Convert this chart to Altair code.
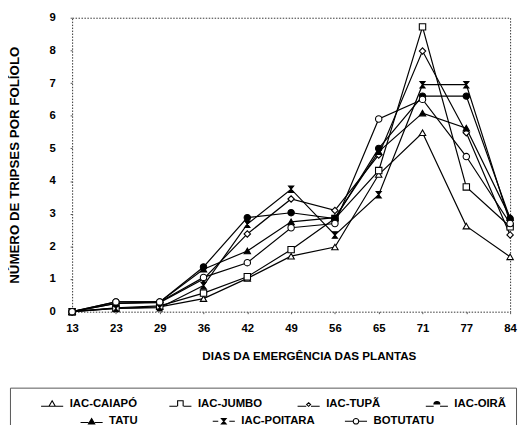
import altair as alt
import pandas as pd

days = ["13", "23", "29", "36", "42", "49", "56", "65", "71", "77", "84"]
series_names = ["IAC-CAIAPÓ", "IAC-JUMBO", "IAC-TUPÃ", "IAC-OIRÃ", "TATU", "IAC-POITARA", "BOTUTATU"]

caiapo   = [0, 0.10, 0.15, 0.40, 1.02, 1.70, 1.98, 4.20, 5.48, 2.62, 1.68]
jumbo    = [0, 0.12, 0.18, 0.57, 1.07, 1.90, 2.85, 4.32, 8.72, 3.82, 2.60]
tupa     = [0, 0.25, 0.28, 1.00, 2.38, 3.45, 3.10, 4.80, 7.98, 5.48, 2.35]
oira     = [0, 0.30, 0.30, 1.37, 2.88, 3.03, 2.85, 5.00, 6.60, 6.60, 2.85]
tatu     = [0, 0.25, 0.30, 1.30, 1.86, 2.75, 2.88, 4.90, 6.08, 5.62, 2.88]
poitara  = [0, 0.10, 0.12, 0.80, 2.68, 3.75, 2.35, 3.58, 6.95, 6.95, 2.72]
botutatu = [0, 0.30, 0.30, 1.05, 1.50, 2.57, 2.70, 5.90, 6.50, 4.75, 2.70]

values = [caiapo, jumbo, tupa, oira, tatu, poitara, botutatu]

rows = []
for name, vals in zip(series_names, values):
    for d, v in zip(days, vals):
        rows.append({"dia": d, "valor": v, "serie": name})
df = pd.DataFrame(rows)

hourglass = "M-0.8,-1L0.8,-1L-0.8,1L0.8,1Z"
marker_shapes = ["triangle-up", "square", "diamond", "circle", "triangle-up", hourglass, "circle"]
marker_fills = ["white", "white", "white", "black", "black", "black", "white"]

# legend symbols: short line with the marker in the middle
leg_shapes = [
    "M-2.8,0.7H-0.8M0.8,0.7H2.8M0,-0.7L0.8,0.7L-0.8,0.7Z",
    "M-2.8,0.7H-0.8M0.8,0.7H2.8M-0.7,0.7V-0.7H0.7V0.7",
    "M-2.8,0.7H-0.6M0.6,0.7H2.8M0,-0.2L0.5,0.25L0,0.7L-0.5,0.25Z",
    "M-2.8,0.7H-0.8M0.8,0.7H2.8M-0.75,0.1A0.75,0.6 0 1,1 0.75,0.1Z",
    "M-2.8,0.3H-0.8M0.8,0.3H2.8M0,-0.7L0.8,0.7L-0.8,0.7Z",
    "M-2.8,0H-1.4M1.4,0H2.8M-0.6,-0.7L0.6,-0.7L-0.6,0.7L0.6,0.7Z",
    "M-2.8,0H-0.7M0.7,0H2.8M-0.7,0A0.7,0.7 0 1,1 0.7,0A0.7,0.7 0 1,1 -0.7,0Z",
]

font = "Liberation Sans"

x_enc = alt.X("dia:O", sort=days, scale=alt.Scale(type="point", padding=0),
              axis=alt.Axis(title="DIAS DA EMERGÊNCIA DAS PLANTAS", labelAngle=0,
                            labelPadding=9, titlePadding=17, tickSize=2, domain=False,
                            titleX=240, titleFontSize=11.8))
y_enc = alt.Y("valor:Q", scale=alt.Scale(domain=[0, 9], nice=False),
              axis=alt.Axis(title="NÚMERO DE TRIPSES POR FOLÍOLO", values=list(range(10)),
                            grid=False, labelPadding=15, titlePadding=28, tickSize=2, domain=False,
                            titleFontSize=13.5))

lines = alt.Chart(df).mark_line(color="black", strokeWidth=1.2).encode(
    x=x_enc, y=y_enc, detail="serie:N"
)

points = alt.Chart(df).mark_point(filled=False, stroke="black", strokeWidth=1.1, size=42, opacity=1).encode(
    x=x_enc, y=y_enc,
    shape=alt.Shape("serie:N", scale=alt.Scale(domain=series_names, range=marker_shapes), legend=None),
    fill=alt.Fill("serie:N", scale=alt.Scale(domain=series_names, range=marker_fills), legend=None),
)

common = dict(
    direction="horizontal", gridAlign="all", rowPadding=4,
    symbolSize=64, symbolStrokeWidth=1.1, labelOffset=12,
    labelFont=font, labelFontWeight="bold", labelFontSize=11.5, labelColor="black",
    labelLimit=200, orient="none",
)

# first row of the key, framed box (tall blank title reserves room for the second row)
legend_a = alt.Legend(
    title=" ", titleOrient="left", titleFontSize=34, titlePadding=27,
    legendX=-63, legendY=375, columns=4, columnPadding=30,
    strokeColor="#555555", padding=10, **common
)
# second row of the key, drawn inside the same box
legend_b = alt.Legend(
    title=None, legendX=14, legendY=403, columns=3, columnPadding=27, padding=0, **common
)

def key_layer(idx, legend):
    names = [series_names[i] for i in idx]
    return alt.Chart(df).transform_filter("false").mark_point(opacity=1).encode(
        shape=alt.Shape("serie:N", scale=alt.Scale(domain=names, range=[leg_shapes[i] for i in idx]), legend=legend),
        fill=alt.Fill("serie:N", scale=alt.Scale(domain=names, range=[marker_fills[i] for i in idx]), legend=legend),
        stroke=alt.Stroke("serie:N", scale=alt.Scale(domain=names, range=["black"] * len(idx)), legend=legend),
    )

key_a = key_layer([0, 1, 2, 3], legend_a)
key_b = key_layer([4, 5, 6], legend_b)

chart = alt.layer(lines, points, key_a, key_b).resolve_scale(
    shape="independent", fill="independent", stroke="independent"
).properties(
    width=444, height=298,
    autosize=alt.AutoSizeParams(type="none"),
    padding={"left": 65, "top": 7, "right": 8, "bottom": 112}
).configure_view(
    stroke="#333333", strokeDash=[1.5, 1.5], strokeWidth=1
).configure_axis(
    labelFont=font, labelFontWeight="bold", labelFontSize=11.5, labelColor="black",
    titleFont=font, titleFontWeight="bold", titleColor="black",
    tickColor="#555555"
)

chart.save("out.html", embed_options={"renderer": "svg", "actions": False})
